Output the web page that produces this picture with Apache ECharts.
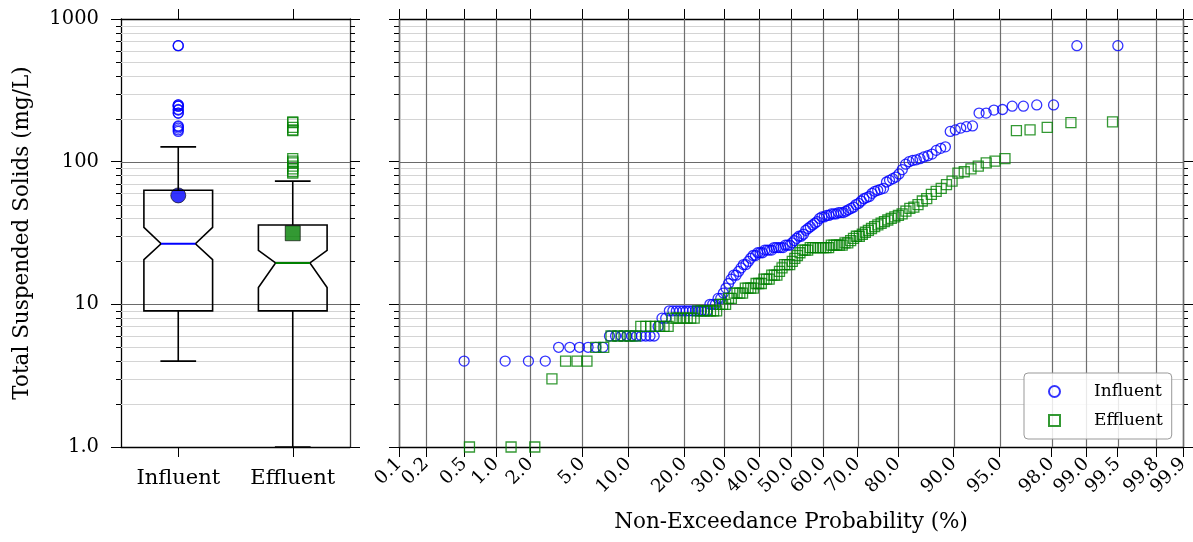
<!DOCTYPE html>
<html><head><meta charset="utf-8">
<script src="https://cdn.jsdelivr.net/npm/echarts@6/dist/echarts.min.js"></script>
<style>html,body{margin:0;padding:0;background:#fff}#c{width:1193px;height:542px}</style>
</head><body><div id="c"></div>
<script>
// ---------------- data ----------------
const groups = ['Influent', 'Effluent'];
const influent = [
  4,4,4,4, 5,5,5,5,5,5, 6,6,6,6,6,6,6,6,6,6,
  7, 8,8, 9,9,9,9,9,9,9,9,9,9,9,9,9,
  10,10,10, 11,11, 12,13,14,15, 16,16, 17,18, 19,19, 20,21, 22,22,
  23,23,23, 24,24,24,24, 25,25,25,25,25, 26,26,26,
  27,28,29,30,30,31,33,34,35,36,
  37,38,40,41,41,42,42,43,43,43,
  44,44,44,45,46,47,48,50,51,53,
  55,56,57,60,62,63,64,65,72,74,
  76,78,82,88,96,100,102,103,105,108,
  110,113,120,124,127,163,167,172,176,178,
  219,219,230,232,245,245,250,250,650,650
];
const effluent = [
  1,1,1, 3, 4,4,4, 5,5, 6,6,6,6,6, 7,7,7,7,7,7,7,
  8,8,8,8,8,8,8, 9,9,9,9,9,9,9, 10,10,10, 11,11,
  12,12,12,12, 13,13,13,13, 14,14,14, 15,15,15, 16,16,16, 17,18,
  19,19,19, 20,21,22,23,24,
  24,24,25,25,25,25,25,25,25,25,26,26,26,26,26,27,27,
  28,29,30,30,31,32,33,34,35,36,37,38,39,40,41,42,
  43,45,47,48,50,53,55,59,62,65,69,73,
  83,85,89,93,98,101,105,
  165,167,174,188,190
];
// box-plot statistics
const whiskerLow  = [4, 1];
const quart1      = [9, 9];
const notchLow    = [20.6, 13.1];
const medians     = [26.6, 19.5];
const notchHigh   = [34.6, 23.9];
const quart3      = [63, 36];
const whiskerHigh = [127, 73];
const means       = [58, 31.5];
// axis ticks
const probTicks = [0.1,0.2,0.5,1,2,5,10,20,30,40,50,60,70,80,90,95,98,99,99.5,99.8,99.9];
const yMajorTicks = [10, 100];
const yMinorTicks = [2,3,4,5,6,7,8,9,20,30,40,50,60,70,80,90,200,300,400,500,600,700,800,900];

// ---------------- helpers ----------------
function normPpf(p) {
  const a=[-3.969683028665376e+01,2.209460984245205e+02,-2.759285104469687e+02,1.383577518672690e+02,-3.066479806614716e+01,2.506628277459239e+00];
  const b=[-5.447609879822406e+01,1.615858368580409e+02,-1.556989798598866e+02,6.680131188771972e+01,-1.328068155288572e+01];
  const c=[-7.784894002430293e-03,-3.223964580411365e-01,-2.400758277161838e+00,-2.549732539343734e+00,4.374664141464968e+00,2.938163982698783e+00];
  const d=[7.784695709041462e-03,3.224671290700398e-01,2.445134137142996e+00,3.754408661907416e+00];
  const pl=0.02425, ph=1-pl; let q, r;
  if (p < pl) { q=Math.sqrt(-2*Math.log(p)); return (((((c[0]*q+c[1])*q+c[2])*q+c[3])*q+c[4])*q+c[5])/((((d[0]*q+d[1])*q+d[2])*q+d[3])*q+1); }
  if (p <= ph) { q=p-0.5; r=q*q; return (((((a[0]*r+a[1])*r+a[2])*r+a[3])*r+a[4])*r+a[5])*q/(((((b[0]*r+b[1])*r+b[2])*r+b[3])*r+b[4])*r+1); }
  q=Math.sqrt(-2*Math.log(1-p)); return -(((((c[0]*q+c[1])*q+c[2])*q+c[3])*q+c[4])*q+c[5])/((((d[0]*q+d[1])*q+d[2])*q+d[3])*q+1);
}
const tickZ = probTicks.map(p => normPpf(p / 100));
const zMin = tickZ[0], zMax = tickZ[tickZ.length - 1];
function probLabel(z) {
  let best = 0;
  tickZ.forEach((t, i) => { if (Math.abs(t - z) < Math.abs(tickZ[best] - z)) best = i; });
  return probTicks[best].toFixed(1);
}
function plotPos(vals) {
  const s = vals.slice().sort((x, y) => x - y), n = s.length;
  return s.map((v, i) => [normPpf((i + 1 - 0.3) / (n + 0.4)), v]);
}

const FONT = 'DejaVu Serif';
const colors = ['#0000ff', '#008000'];
const px = v => Math.round(v) + 0.5;

// gridline drawer (horizontal)
function hGridRender(params, api) {
  const cs = params.coordSys;
  const y = px(api.coord([api.value(0), api.value(1)])[1]);
  const major = api.value(2) === 1;
  const kids = [{ type: 'line', shape: { x1: cs.x, y1: y, x2: cs.x + cs.width, y2: y },
    style: { stroke: major ? '#6a6a6a' : '#d4d4d4', lineWidth: 1 } }];
  if (!major) {
    kids.push({ type: 'line', shape: { x1: cs.x - 5, y1: y, x2: cs.x, y2: y }, style: { stroke: '#000', lineWidth: 1 } });
    kids.push({ type: 'line', shape: { x1: cs.x + cs.width, y1: y, x2: cs.x + cs.width + 5, y2: y }, style: { stroke: '#000', lineWidth: 1 } });
  }
  return { type: 'group', children: kids };
}
const hGridData = yMajorTicks.map(v => [0, v, 1]).concat(yMinorTicks.map(v => [0, v, 0]));

function vGridRender(params, api) {
  const cs = params.coordSys;
  const x = px(api.coord([api.value(0), 10])[0]);
  return { type: 'line', shape: { x1: x, y1: cs.y, x2: x, y2: cs.y + cs.height },
    style: { stroke: '#6e6e6e', lineWidth: 1.2 } };
}

function boxRender(params, api) {
  const i = api.value(0);
  const band = api.size([1, 0])[0];
  const w = band * 0.6, half = w / 2, inset = w * 0.25;
  const cx = api.coord([i, 1])[0];
  const Y = k => api.coord([i, api.value(k)])[1];
  const yLow = Y(1), yQ1 = Y(2), yNl = Y(3), yMed = Y(4), yNh = Y(5), yQ3 = Y(6), yHigh = Y(7);
  const L = cx - half, R = cx + half;
  const stroke = { stroke: '#000', lineWidth: 1.6, fill: null };
  return { type: 'group', children: [
    { type: 'line', shape: { x1: cx, y1: yQ1, x2: cx, y2: yLow }, style: stroke },
    { type: 'line', shape: { x1: cx, y1: yQ3, x2: cx, y2: yHigh }, style: stroke },
    { type: 'line', shape: { x1: cx - w * 0.26, y1: yLow, x2: cx + w * 0.26, y2: yLow }, style: stroke },
    { type: 'line', shape: { x1: cx - w * 0.26, y1: yHigh, x2: cx + w * 0.26, y2: yHigh }, style: stroke },
    { type: 'polygon', shape: { points: [[L, yQ1], [R, yQ1], [R, yNl], [R - inset, yMed], [R, yNh], [R, yQ3],
        [L, yQ3], [L, yNh], [L + inset, yMed], [L, yNl]] }, style: { stroke: '#000', lineWidth: 1.6, fill: null } },
    { type: 'line', shape: { x1: L + inset, y1: yMed, x2: R - inset, y2: yMed },
      style: { stroke: colors[i], lineWidth: 2 } }
  ]};
}
const boxData = groups.map((g, i) => [i, whiskerLow[i], quart1[i], notchLow[i], medians[i], notchHigh[i], quart3[i], whiskerHigh[i]]);

const outI = influent.filter(v => v > whiskerHigh[0]).map(v => [0, v]);
const outE = effluent.filter(v => v > whiskerHigh[1]).map(v => [1, v]);

const axisLineStyle = { onZero: false, lineStyle: { color: '#000', width: 1.3 } };
const tickOut = { show: true, inside: false, length: 10, lineStyle: { color: '#000', width: 1 } };

const chart = echarts.init(document.getElementById('c'), null, { renderer: 'canvas' });
chart.setOption({
  animation: false,
  backgroundColor: '#fff',
  textStyle: { fontFamily: FONT },
  grid: [
    { left: 121, top: 19, width: 229, height: 428 },
    { left: 399, top: 19, width: 784, height: 428 }
  ],
  xAxis: [
    { type: 'category', gridIndex: 0, data: groups, position: 'bottom', boundaryGap: true,
      axisLine: axisLineStyle, axisTick: Object.assign({ alignWithLabel: true }, tickOut),
      axisLabel: { fontFamily: FONT, fontSize: 21, color: '#000', margin: 21 }, splitLine: { show: false } },
    { type: 'category', gridIndex: 0, data: groups, position: 'top', boundaryGap: true,
      axisLine: axisLineStyle, axisTick: Object.assign({ alignWithLabel: true }, tickOut),
      axisLabel: { show: false }, splitLine: { show: false } },
    { type: 'value', gridIndex: 1, position: 'bottom', min: zMin, max: zMax,
      axisLine: axisLineStyle, axisTick: Object.assign({ customValues: tickZ }, tickOut),
      axisLabel: { customValues: tickZ, rotate: 45, fontFamily: FONT, fontSize: 18.5, color: '#000', margin: 14,
        formatter: v => probLabel(v) },
      splitLine: { show: false },
      name: 'Non-Exceedance Probability (%)', nameLocation: 'middle', nameGap: 64,
      nameTextStyle: { fontFamily: FONT, fontSize: 21.5, color: '#000' } },
    { type: 'value', gridIndex: 1, position: 'top', min: zMin, max: zMax,
      axisLine: axisLineStyle, axisTick: Object.assign({ customValues: tickZ }, tickOut),
      axisLabel: { show: false }, splitLine: { show: false } }
  ],
  yAxis: [
    { type: 'log', logBase: 10, gridIndex: 0, position: 'left', min: 1, max: 1000,
      axisLine: { show: true, onZero: false, lineStyle: { color: '#000', width: 1.3 } }, axisTick: tickOut,
      axisLabel: { fontFamily: FONT, fontSize: 19.5, color: '#000', margin: 22,
        formatter: v => (Math.round(v) === 1 ? '1.0' : String(Math.round(v))) },
      splitLine: { show: false },
      name: 'Total Suspended Solids (mg/L)', nameLocation: 'middle', nameRotate: 90, nameGap: 88,
      nameTextStyle: { fontFamily: FONT, fontSize: 21.5, color: '#000' } },
    { type: 'log', logBase: 10, gridIndex: 0, position: 'right', min: 1, max: 1000,
      axisLine: { show: true, onZero: false, lineStyle: { color: '#333', width: 1.3 } }, axisTick: tickOut,
      axisLabel: { show: false }, splitLine: { show: false } },
    { type: 'log', logBase: 10, gridIndex: 1, position: 'left', min: 1, max: 1000,
      axisLine: { show: true, onZero: false, lineStyle: { color: '#000', width: 1.3 } }, axisTick: tickOut,
      axisLabel: { show: false }, splitLine: { show: false } },
    { type: 'log', logBase: 10, gridIndex: 1, position: 'right', min: 1, max: 1000,
      axisLine: { show: true, onZero: false, lineStyle: { color: '#000', width: 1.3 } }, axisTick: tickOut,
      axisLabel: { show: false }, splitLine: { show: false } }
  ],
  legend: {
    orient: 'vertical', left: 1024, top: 373, data: ['Influent', 'Effluent'],
    itemWidth: 11, itemHeight: 11, itemGap: 12, padding: [10, 9, 10, 24],
    borderColor: '#999', borderWidth: 1, borderRadius: 4, backgroundColor: 'rgba(255,255,255,0.85)',
    textStyle: { fontFamily: FONT, fontSize: 17, color: '#000', padding: [0, 0, 0, 29] }
  },
  series: [
    { type: 'custom', name: 'hgrid0', xAxisIndex: 0, yAxisIndex: 0, z: 1, silent: true,
      renderItem: hGridRender, data: hGridData },
    { type: 'custom', name: 'hgrid1', xAxisIndex: 2, yAxisIndex: 2, z: 1, silent: true,
      renderItem: hGridRender, data: hGridData },
    { type: 'custom', name: 'vgrid1', xAxisIndex: 2, yAxisIndex: 2, z: 1, silent: true,
      renderItem: vGridRender, data: tickZ.map(z => [z]) },
    { type: 'scatter', name: 'means', xAxisIndex: 0, yAxisIndex: 0, z: 2,
      data: [
        { value: [0, means[0]], symbol: 'circle', symbolSize: 15, itemStyle: { color: colors[0], borderColor: '#000', borderWidth: 0.8 } },
        { value: [1, means[1]], symbol: 'rect', symbolSize: 15, itemStyle: { color: colors[1], borderColor: '#000', borderWidth: 0.8 } }
      ] },
    { type: 'custom', name: 'boxes', xAxisIndex: 0, yAxisIndex: 0, z: 3, renderItem: boxRender, data: boxData },
    { type: 'scatter', name: 'Influent outliers', xAxisIndex: 0, yAxisIndex: 0, z: 4, symbol: 'circle', symbolSize: 10,
      itemStyle: { color: 'rgba(0,0,0,0)', borderColor: colors[0], borderWidth: 1.3 }, data: outI },
    { type: 'scatter', name: 'Effluent outliers', xAxisIndex: 0, yAxisIndex: 0, z: 4, symbol: 'rect', symbolSize: 10,
      itemStyle: { color: 'rgba(0,0,0,0)', borderColor: colors[1], borderWidth: 1.3 }, data: outE },
    { type: 'scatter', name: 'Influent', xAxisIndex: 2, yAxisIndex: 2, z: 4, symbol: 'circle', symbolSize: 10,
      itemStyle: { color: 'rgba(0,0,0,0)', borderColor: colors[0], borderWidth: 1.3 }, data: plotPos(influent) },
    { type: 'scatter', name: 'Effluent', xAxisIndex: 2, yAxisIndex: 2, z: 4, symbol: 'rect', symbolSize: 10,
      itemStyle: { color: 'rgba(0,0,0,0)', borderColor: colors[1], borderWidth: 1.3 }, data: plotPos(effluent) }
  ]
});
</script></body></html>
